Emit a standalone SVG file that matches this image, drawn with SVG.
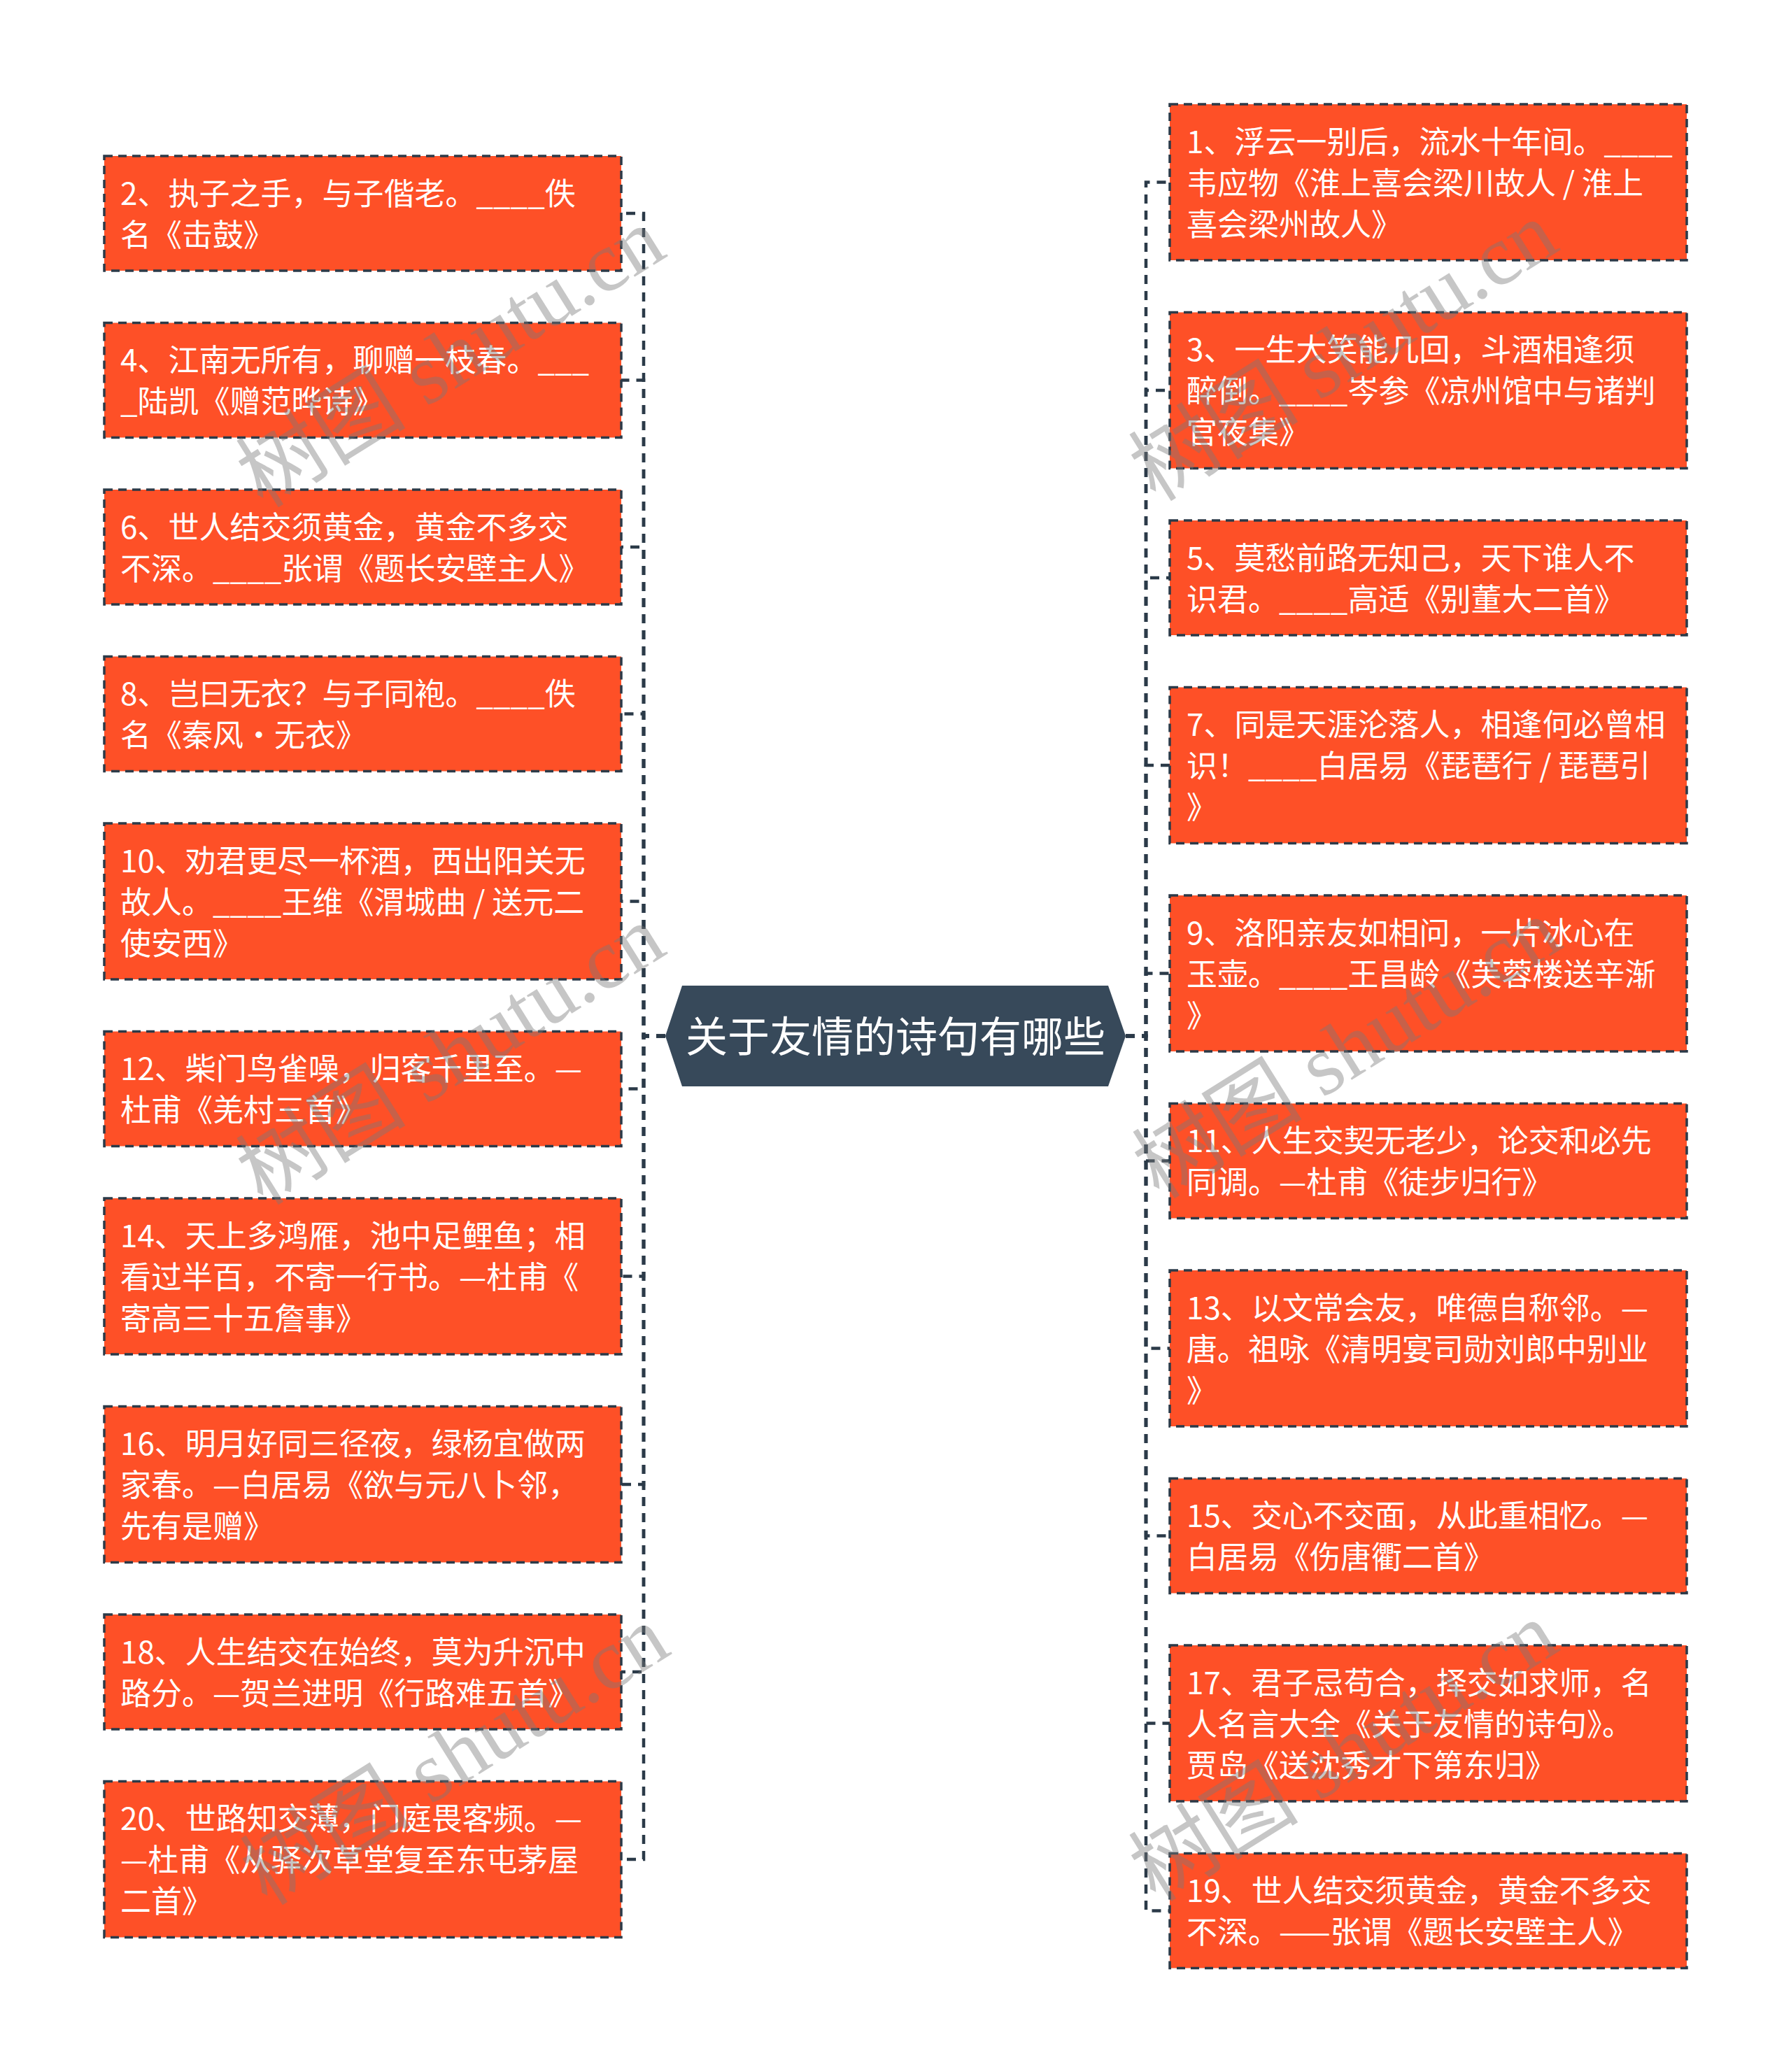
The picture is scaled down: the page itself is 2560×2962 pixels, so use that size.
<svg xmlns="http://www.w3.org/2000/svg" width="2560" height="2962" viewBox="0 0 2560 2962">
<style>
.box{fill:#FE5027;stroke:#2B3A48;stroke-width:3.5;stroke-dasharray:12 8}
.t{font-family:"Noto Sans CJK SC","Liberation Sans",sans-serif;font-size:44px;fill:#FFFFFF}
.c{font-family:"Noto Sans CJK SC","Liberation Sans",sans-serif;font-size:60px;fill:#FFFFFF;text-anchor:middle}
.edge{fill:none;stroke:#2B3A48;stroke-width:4.5;stroke-dasharray:13 10}
.wm{font-family:"Liberation Serif","Noto Sans CJK SC",serif;font-size:122px;fill:#7A7A7A;opacity:0.42;text-anchor:middle}
</style>
<rect width="2560" height="2962" fill="#FFFFFF"/>
<g id="connectors">
<path class="edge" d="M951 1481H920V305H888"/>
<path class="edge" d="M951 1481H920V543.5H888"/>
<path class="edge" d="M951 1481H920V782H888"/>
<path class="edge" d="M951 1481H920V1020.5H888"/>
<path class="edge" d="M951 1481H920V1288.5H888"/>
<path class="edge" d="M951 1481H920V1556.5H888"/>
<path class="edge" d="M951 1481H920V1824.5H888"/>
<path class="edge" d="M951 1481H920V2122H888"/>
<path class="edge" d="M951 1481H920V2390H888"/>
<path class="edge" d="M951 1481H920V2658H888"/>
<path class="edge" d="M1609 1481H1638V260.5H1672"/>
<path class="edge" d="M1609 1481H1638V558H1672"/>
<path class="edge" d="M1609 1481H1638V826H1672"/>
<path class="edge" d="M1609 1481H1638V1094H1672"/>
<path class="edge" d="M1609 1481H1638V1391.5H1672"/>
<path class="edge" d="M1609 1481H1638V1659.5H1672"/>
<path class="edge" d="M1609 1481H1638V1927.5H1672"/>
<path class="edge" d="M1609 1481H1638V2195.5H1672"/>
<path class="edge" d="M1609 1481H1638V2463.5H1672"/>
<path class="edge" d="M1609 1481H1638V2731.5H1672"/>
</g>
<g id="root">
<polygon points="951,1481 975,1409 1584,1409 1609,1481 1584,1553 975,1553" fill="#37495A"/>
<text class="c" x="1280" y="1504">关于友情的诗句有哪些</text>
</g>
<g id="node-2"><rect class="box" x="149" y="223" width="739" height="164"/><text class="t"><tspan x="172" y="292.5">2、执子之手，与子偕老。____佚</tspan><tspan x="172" y="351.5">名《击鼓》</tspan></text></g>
<g id="node-4"><rect class="box" x="149" y="461.5" width="739" height="164"/><text class="t"><tspan x="172" y="531">4、江南无所有，聊赠一枝春。___</tspan><tspan x="172" y="590">_陆凯《赠范晔诗》</tspan></text></g>
<g id="node-6"><rect class="box" x="149" y="700" width="739" height="164"/><text class="t"><tspan x="172" y="769.5">6、世人结交须黄金，黄金不多交</tspan><tspan x="172" y="828.5">不深。____张谓《题长安壁主人》</tspan></text></g>
<g id="node-8"><rect class="box" x="149" y="938.5" width="739" height="164"/><text class="t"><tspan x="172" y="1008">8、岂曰无衣？与子同袍。____佚</tspan><tspan x="172" y="1067">名《秦风·无衣》</tspan></text></g>
<g id="node-10"><rect class="box" x="149" y="1177" width="739" height="223"/><text class="t"><tspan x="172" y="1246.5">10、劝君更尽一杯酒，西出阳关无</tspan><tspan x="172" y="1305.5">故人。____王维《渭城曲 / 送元二</tspan><tspan x="172" y="1364.5">使安西》</tspan></text></g>
<g id="node-12"><rect class="box" x="149" y="1474.5" width="739" height="164"/><text class="t"><tspan x="172" y="1544">12、柴门鸟雀噪，归客千里至。—</tspan><tspan x="172" y="1603">杜甫《羌村三首》</tspan></text></g>
<g id="node-14"><rect class="box" x="149" y="1713" width="739" height="223"/><text class="t"><tspan x="172" y="1782.5">14、天上多鸿雁，池中足鲤鱼；相</tspan><tspan x="172" y="1841.5">看过半百，不寄一行书。—杜甫《</tspan><tspan x="172" y="1900.5">寄高三十五詹事》</tspan></text></g>
<g id="node-16"><rect class="box" x="149" y="2010.5" width="739" height="223"/><text class="t"><tspan x="172" y="2080">16、明月好同三径夜，绿杨宜做两</tspan><tspan x="172" y="2139">家春。—白居易《欲与元八卜邻，</tspan><tspan x="172" y="2198">先有是赠》</tspan></text></g>
<g id="node-18"><rect class="box" x="149" y="2308" width="739" height="164"/><text class="t"><tspan x="172" y="2377.5">18、人生结交在始终，莫为升沉中</tspan><tspan x="172" y="2436.5">路分。—贺兰进明《行路难五首》</tspan></text></g>
<g id="node-20"><rect class="box" x="149" y="2546.5" width="739" height="223"/><text class="t"><tspan x="172" y="2616">20、世路知交薄，门庭畏客频。—</tspan><tspan x="172" y="2675">—杜甫《从驿次草堂复至东屯茅屋</tspan><tspan x="172" y="2734">二首》</tspan></text></g>
<g id="node-1"><rect class="box" x="1672" y="149" width="739" height="223"/><text class="t"><tspan x="1696" y="218.5">1、浮云一别后，流水十年间。____</tspan><tspan x="1696" y="277.5">韦应物《淮上喜会梁川故人 / 淮上</tspan><tspan x="1696" y="336.5">喜会梁州故人》</tspan></text></g>
<g id="node-3"><rect class="box" x="1672" y="446.5" width="739" height="223"/><text class="t"><tspan x="1696" y="516">3、一生大笑能几回，斗酒相逢须</tspan><tspan x="1696" y="575">醉倒。____岑参《凉州馆中与诸判</tspan><tspan x="1696" y="634">官夜集》</tspan></text></g>
<g id="node-5"><rect class="box" x="1672" y="744" width="739" height="164"/><text class="t"><tspan x="1696" y="813.5">5、莫愁前路无知己，天下谁人不</tspan><tspan x="1696" y="872.5">识君。____高适《别董大二首》</tspan></text></g>
<g id="node-7"><rect class="box" x="1672" y="982.5" width="739" height="223"/><text class="t"><tspan x="1696" y="1052">7、同是天涯沦落人，相逢何必曾相</tspan><tspan x="1696" y="1111">识！____白居易《琵琶行 / 琵琶引</tspan><tspan x="1696" y="1170">》</tspan></text></g>
<g id="node-9"><rect class="box" x="1672" y="1280" width="739" height="223"/><text class="t"><tspan x="1696" y="1349.5">9、洛阳亲友如相问，一片冰心在</tspan><tspan x="1696" y="1408.5">玉壶。____王昌龄《芙蓉楼送辛渐</tspan><tspan x="1696" y="1467.5">》</tspan></text></g>
<g id="node-11"><rect class="box" x="1672" y="1577.5" width="739" height="164"/><text class="t"><tspan x="1696" y="1647">11、人生交契无老少，论交和必先</tspan><tspan x="1696" y="1706">同调。—杜甫《徒步归行》</tspan></text></g>
<g id="node-13"><rect class="box" x="1672" y="1816" width="739" height="223"/><text class="t"><tspan x="1696" y="1885.5">13、以文常会友，唯德自称邻。—</tspan><tspan x="1696" y="1944.5">唐。祖咏《清明宴司勋刘郎中别业</tspan><tspan x="1696" y="2003.5">》</tspan></text></g>
<g id="node-15"><rect class="box" x="1672" y="2113.5" width="739" height="164"/><text class="t"><tspan x="1696" y="2183">15、交心不交面，从此重相忆。—</tspan><tspan x="1696" y="2242">白居易《伤唐衢二首》</tspan></text></g>
<g id="node-17"><rect class="box" x="1672" y="2352" width="739" height="223"/><text class="t"><tspan x="1696" y="2421.5">17、君子忌苟合，择交如求师，名</tspan><tspan x="1696" y="2480.5">人名言大全《关于友情的诗句》。</tspan><tspan x="1696" y="2539.5">贾岛《送沈秀才下第东归》</tspan></text></g>
<g id="node-19"><rect class="box" x="1672" y="2649.5" width="739" height="164"/><text class="t"><tspan x="1696" y="2719">19、世人结交须黄金，黄金不多交</tspan><tspan x="1696" y="2778">不深。——张谓《题长安壁主人》</tspan></text></g>
<g id="watermarks">
<text class="wm" transform="translate(646,514) rotate(-32)" y="38">树图 shutu.cn</text>
<text class="wm" transform="translate(646,1511) rotate(-32)" y="38">树图 shutu.cn</text>
<text class="wm" transform="translate(652,2512) rotate(-32)" y="38">树图 shutu.cn</text>
<text class="wm" transform="translate(1922,505) rotate(-32)" y="38">树图 shutu.cn</text>
<text class="wm" transform="translate(1927,1502) rotate(-32)" y="38">树图 shutu.cn</text>
<text class="wm" transform="translate(1922,2507) rotate(-32)" y="38">树图 shutu.cn</text>
</g>
</svg>
